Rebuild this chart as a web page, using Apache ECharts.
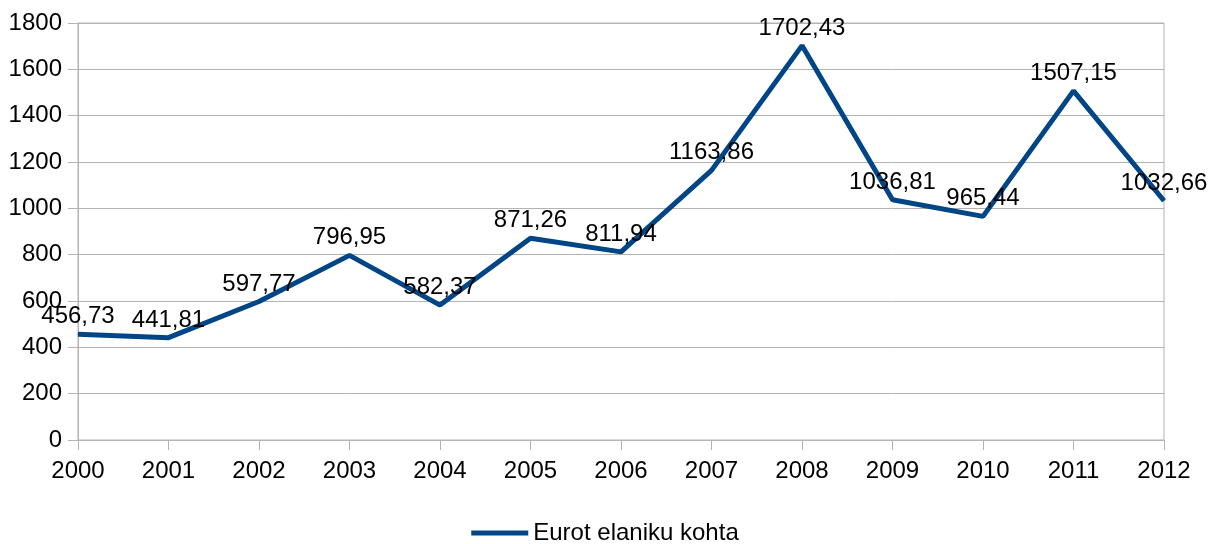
<!DOCTYPE html>
<html>
<head>
<meta charset="utf-8">
<script src="https://cdn.jsdelivr.net/npm/echarts@6/dist/echarts.min.js"></script>
<style>
  html, body { margin: 0; padding: 0; background: #fff; }
  #main { width: 1210px; height: 544px; }
</style>
</head>
<body>
<div id="main"></div>
<script>
// chart data
var years = ['2000', '2001', '2002', '2003', '2004', '2005', '2006', '2007', '2008', '2009', '2010', '2011', '2012']
var eurPerResident = [456.73, 441.81, 597.77, 796.95, 582.37, 871.26, 811.94, 1163.86, 1702.43, 1036.81, 965.44, 1507.15, 1032.66]
var seriesName = 'Eurot elaniku kohta'

var chart = echarts.init(document.getElementById('main'))
var font = 'Liberation Sans, Arial, sans-serif'
var gridColor = '#b3b3b3'
var fs = 24

chart.setOption({
  animation: false,
  textStyle: { fontFamily: font },
  grid: {
    left: 78,
    right: 46,
    top: 23,
    bottom: 104,
    show: true,
    borderColor: gridColor,
    borderWidth: 1
  },
  legend: {
    bottom: -6,
    left: 'center',
    icon: 'rect',
    itemWidth: 57,
    itemHeight: 5,
    itemGap: 9,
    textStyle: { fontFamily: font, fontSize: fs, color: '#000' },
    data: [seriesName]
  },
  xAxis: {
    type: 'category',
    data: years,
    boundaryGap: false,
    axisLine: { lineStyle: { color: gridColor } },
    axisTick: { show: true, length: 10, lineStyle: { color: gridColor } },
    axisLabel: { color: '#000', fontSize: fs, fontFamily: font, margin: 19 },
    splitLine: { show: false }
  },
  yAxis: {
    type: 'value',
    min: 0,
    max: 1800,
    interval: 200,
    axisLine: { show: true, lineStyle: { color: gridColor } },
    axisTick: { show: true, length: 10, lineStyle: { color: gridColor } },
    axisLabel: {
      color: '#000', fontSize: fs, fontFamily: font, margin: 16,
      formatter: function(v) { return String(v) }
    },
    splitLine: { show: true, lineStyle: { color: gridColor } }
  },
  series: [{
    name: seriesName,
    type: 'line',
    data: eurPerResident,
    symbol: 'circle',
    symbolSize: 1,
    showSymbol: true,
    itemStyle: { color: '#004586' },
    color: '#004586',
    lineStyle: { width: 5, color: '#004586' },
    label: {
      show: true,
      position: 'top',
      distance: 5,
      color: '#000',
      fontSize: fs,
      fontFamily: font,
      formatter: function(p) {
        return p.value.toFixed(2).replace('.', ',')
      }
    },
    labelLayout: { hideOverlap: false }
  }]
})
</script>
</body>
</html>
